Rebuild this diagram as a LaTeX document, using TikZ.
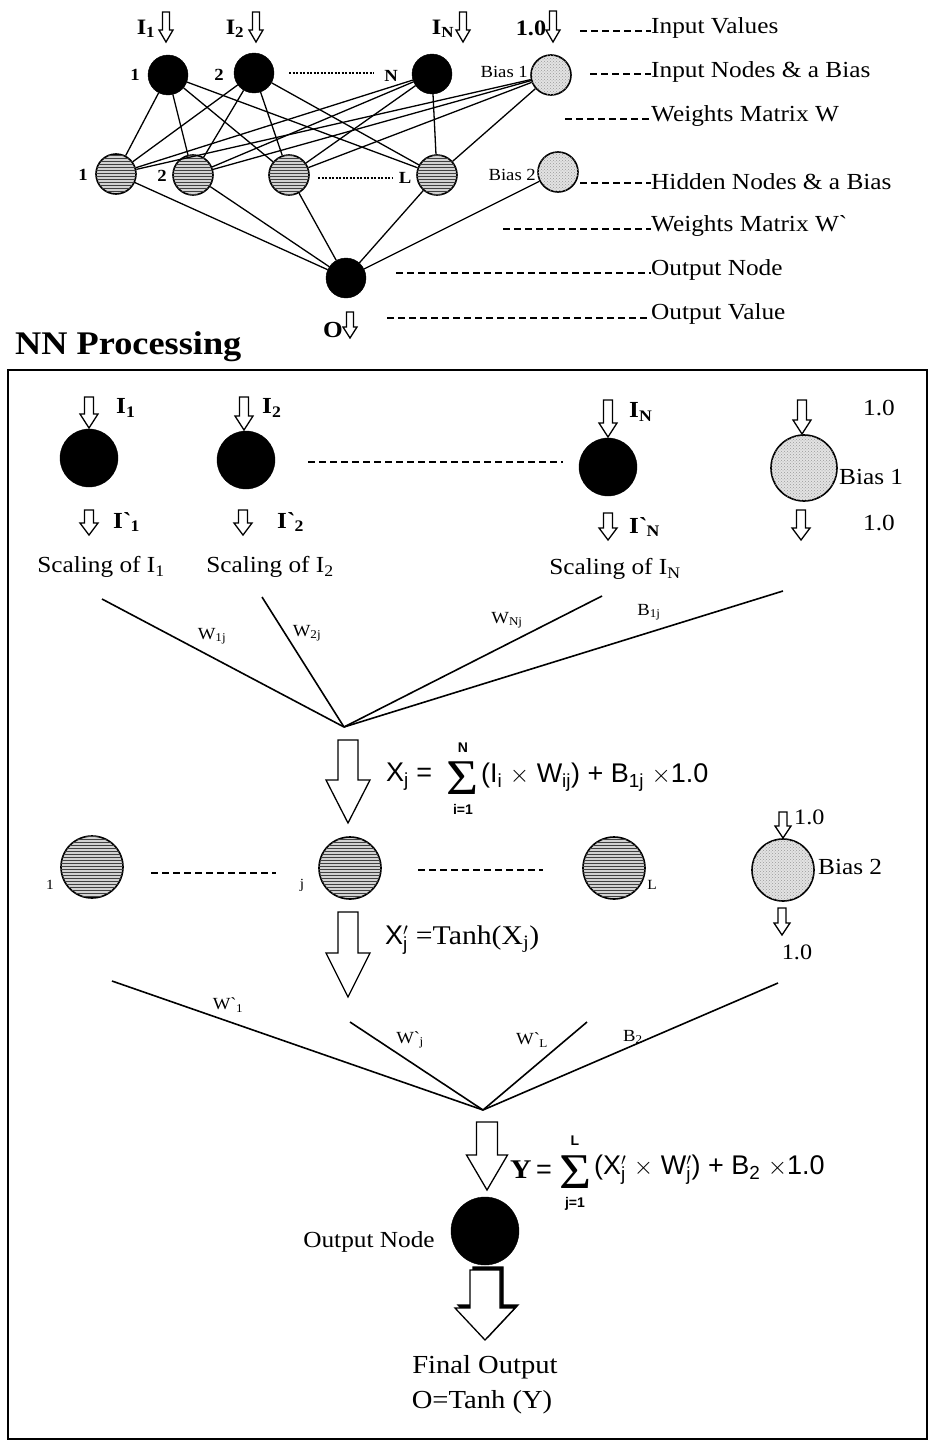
\documentclass[tikz,border=0pt]{standalone}
\usepackage{fontspec}
\setmainfont{Liberation Serif}[FakeStretch=1.1]
\setsansfont{Liberation Sans}
\usetikzlibrary{patterns}
\newcommand\fsz[1]{\fontsize{#1}{#1}\selectfont}
% hollow block arrow: [style] x, ytop, ybottom, shaft half width, head half width, head length
\newcommand\hollowarrow[7][]{%
  \draw[harrow,#1] (#2-#5,#3) -- (#2+#5,#3) -- (#2+#5,#4-#7) -- (#2+#6,#4-#7) -- (#2,#4) -- (#2-#6,#4-#7) -- (#2-#5,#4-#7) -- cycle;}
\tikzset{
  harrow/.style={draw=black, fill=white, line width=1.3pt, line join=miter},
  edge/.style={line width=1.3pt},
  fan/.style={line width=1.6pt},
  inp/.style={circle, draw=black, fill=black, inner sep=0pt},
  hid/.style={circle, draw=black, line width=1.6pt, fill=gray!35, inner sep=0pt,
     postaction={pattern=horizontal lines, pattern color=black!75}},
  bia/.style={circle, draw=black, line width=1.6pt, fill=gray!22, inner sep=0pt,
     postaction={pattern=crosshatch dots, pattern color=gray!80}},
  leg/.style={anchor=west, inner sep=0pt, font=\fsz{23}},
  legdash/.style={line width=1.2pt, dash pattern=on 7pt off 4pt},
  small/.style={inner sep=0pt, font=\fsz{17}\bfseries},
  txt/.style={inner sep=0pt, font=\fsz{23}},
  btxt/.style={inner sep=0pt, font=\fsz{23}\bfseries},
  wl/.style={inner sep=0pt, font=\fsz{17}},
  form/.style={inner sep=0pt, anchor=west, font=\fsz{27}\sffamily},
  sigma/.style={inner sep=0pt, font=\fsz{50}},
  slim/.style={inner sep=0pt, font=\fsz{14}\sffamily\bfseries}
}
\begin{document}
\begin{tikzpicture}[x=1pt,y=-1pt]
\useasboundingbox (0,0) rectangle (930,1443);

% ================= top network =================
\node[inp, minimum size=40pt] (i1) at (168,75) {};
\node[inp, minimum size=40pt] (i2) at (254,73) {};
\node[inp, minimum size=40pt] (iN) at (432,74) {};
\node[bia, minimum size=40pt] (b1) at (551,75) {};
\node[hid, minimum size=40pt] (h1) at (116,174) {};
\node[hid, minimum size=40pt] (h2) at (193,175) {};
\node[hid, minimum size=40pt] (h3) at (289,175) {};
\node[hid, minimum size=40pt] (hL) at (437,175) {};
\node[bia, minimum size=40pt] (b2) at (558,172) {};
\node[inp, minimum size=40pt] (o) at (346,278) {};

\foreach \a in {i1,i2,iN,b1}
  \foreach \b in {h1,h2,h3,hL}
    \draw[edge] (\a) -- (\b);
\foreach \a in {h1,h2,h3,hL,b2}
  \draw[edge] (\a) -- (o);

\node[small] (li1) at (135,75) {1};
\node[small] (li2) at (219,75) {2};
\node[small] (liN) at (391,76) {N};
\node[small] (lh1) at (83,175) {1};
\node[small] (lh2) at (162,176) {2};
\node[small] (lhL) at (405,178) {L};
\node[inner sep=0pt, font=\fsz{17}, anchor=east] (lb1) at (528,72) {Bias 1};
\node[inner sep=0pt, font=\fsz{17}, anchor=east] (lb2) at (536,175) {Bias 2};
\coordinate (d1a) at (289,73); \coordinate (d1b) at (374,73);
\draw[line width=1.2pt, dash pattern=on 2pt off 1.5pt] (d1a) -- (d1b);
\coordinate (d2a) at (318,178); \coordinate (d2b) at (392,178);
\draw[line width=1.2pt, dash pattern=on 2pt off 1.5pt] (d2a) -- (d2b);

% input value arrows
\node[inner sep=0pt, font=\fsz{22}\bfseries] (tI1) at (146,29) {I\textsubscript{1}};
\node[inner sep=0pt, font=\fsz{22}\bfseries] (tI2) at (235,29) {I\textsubscript{2}};
\node[inner sep=0pt, font=\fsz{22}\bfseries] (tIN) at (443,29) {I\textsubscript{N}};
\node[inner sep=0pt, font=\fsz{22}\bfseries] (t10) at (531,28) {1.0};
\hollowarrow{166}{12}{42}{3.5}{7}{12}
\hollowarrow{256}{12}{42}{3.5}{7}{12}
\hollowarrow{463}{12}{42}{3.5}{7}{12}
\hollowarrow{553}{11}{42}{3.5}{7}{12}
\node[inner sep=0pt, font=\fsz{23}\bfseries] (tO) at (333,330) {O};
\hollowarrow{350}{312}{338}{3.5}{7}{11}

% legend
\node[leg] (g1) at (651,28) {Input Values};
\node[leg] (g2) at (651,72) {Input Nodes \& a Bias};
\node[leg] (g3) at (651,116) {Weights Matrix W};
\node[leg] (g4) at (651,182) {Hidden Nodes \& a Bias};
\node[leg] (g5) at (651,226) {Weights Matrix W\textasciigrave};
\node[leg] (g6) at (651,270) {Output Node};
\node[leg] (g7) at (651,314) {Output Value};
\coordinate (e1) at (580,31);  \draw[legdash] (e1) -- (e1 -| g1.west);
\coordinate (e2) at (590,74);  \draw[legdash] (e2) -- (e2 -| g2.west);
\coordinate (e3) at (565,119); \draw[legdash] (e3) -- (e3 -| g3.west);
\coordinate (e4) at (580,183); \draw[legdash] (e4) -- (e4 -| g4.west);
\coordinate (e5) at (503,229); \draw[legdash] (e5) -- (e5 -| g5.west);
\coordinate (e6) at (396,273); \draw[legdash] (e6) -- (e6 -| g6.west);
\coordinate (e7) at (387,318); \draw[legdash] (e7) -- (e7 -| g7.west);

% ================= NN processing =================
\node[inner sep=0pt, anchor=west, font=\fsz{33}\bfseries] (title) at (15,347) {NN Processing};
\draw[line width=2pt] (8,370) rectangle (927,1439);

% input layer
\node[inp, minimum size=58pt] (n1) at (89,458) {};
\node[inp, minimum size=58pt] (n2) at (246,460) {};
\node[inp, minimum size=58pt] (nN) at (608,467) {};
\node[bia, minimum size=66pt] (nb1) at (804,468) {};
\coordinate (dd1) at (308,462); \coordinate (dd2) at (563,462);
\draw[line width=1.6pt, dash pattern=on 7pt off 4pt] (dd1) -- (dd2);

\hollowarrow{89}{397}{428}{4.5}{9}{14}
\hollowarrow{244}{397}{430}{4.5}{9}{14}
\hollowarrow{608}{400}{437}{4.5}{9}{14}
\hollowarrow{802}{400}{434}{4.5}{9}{14}
\hollowarrow{89}{510}{535}{4.5}{9}{12}
\hollowarrow{243}{510}{535}{4.5}{9}{12}
\hollowarrow{608}{513}{540}{4.5}{9}{12}
\hollowarrow{801}{510}{540}{4.5}{9}{12}

\node[btxt, anchor=west] (I1) at (116,408) {I\textsubscript{1}};
\node[btxt, anchor=west] (I2) at (262,408) {I\textsubscript{2}};
\node[btxt, anchor=west] (IN) at (629,412) {I\textsubscript{N}};
\node[btxt, anchor=west] (Ip1) at (113,522) {I\textasciigrave\textsubscript{1}};
\node[btxt, anchor=west] (Ip2) at (277,522) {I\textasciigrave\textsubscript{2}};
\node[btxt, anchor=west] (IpN) at (629,527) {I\textasciigrave\textsubscript{N}};
\node[txt, anchor=west] (v1) at (863,408) {1.0};
\node[txt, anchor=west] (v2) at (863,523) {1.0};
\node[txt, anchor=west] (bb1) at (839,477) {Bias 1};
\node[txt] (s1) at (101,567) {Scaling of I\textsubscript{1}};
\node[txt] (s2) at (270,567) {Scaling of I\textsubscript{2}};
\node[txt] (sN) at (615,569) {Scaling of I\textsubscript{N}};

% first fan
\coordinate (c1) at (344,727);
\coordinate (fa) at (102,599);
\coordinate (fb) at (262,597);
\coordinate (fc) at (602,596);
\coordinate (fd) at (783,591);
\draw[fan] (fa) -- (c1);
\draw[fan] (fb) -- (c1);
\draw[fan] (fc) -- (c1);
\draw[fan] (fd) -- (c1);
\node[wl] (w1) at (212,636) {W\textsubscript{1j}};
\node[wl] (w2) at (307,633) {W\textsubscript{2j}};
\node[wl] (wN) at (507,620) {W\textsubscript{Nj}};
\node[wl] (wB) at (649,612) {B\textsubscript{1j}};

\hollowarrow{348}{740}{823}{10}{22}{43}
\node[form] (F1a) at (386,777) {X\textsubscript{j} =};
\node[sigma] (S1) at (463,778) {Σ};
\node[slim] (S1t) at (463,748) {N};
\node[slim] (S1b) at (463,809) {i=1};
\node[form] (F1b) at (481,777) {(I\textsubscript{i} $\times$ W\textsubscript{ij}) + B\textsubscript{1j} $\times$1.0};

% hidden layer
\node[hid, minimum size=62pt] (m1) at (92,867) {};
\node[hid, minimum size=62pt] (mj) at (350,868) {};
\node[hid, minimum size=62pt] (mL) at (614,868) {};
\node[bia, minimum size=62pt] (nb2) at (783,870) {};
\node[inner sep=0pt, font=\fsz{14}] (lm1) at (50,885) {1};
\node[inner sep=0pt, font=\fsz{14}] (lmj) at (302,885) {j};
\node[inner sep=0pt, font=\fsz{14}] (lmL) at (652,885) {L};
\coordinate (hd1) at (151,873); \coordinate (hd2) at (276,873);
\draw[line width=1.6pt, dash pattern=on 7pt off 4pt] (hd1) -- (hd2);
\coordinate (hd3) at (418,870); \coordinate (hd4) at (543,870);
\draw[line width=1.6pt, dash pattern=on 7pt off 4pt] (hd3) -- (hd4);
\node[txt, anchor=west] (bb2) at (818,867) {Bias 2};
\hollowarrow{783}{812}{838}{4}{8}{12}
\node[inner sep=0pt, anchor=west, font=\fsz{22}] (v3) at (794,817) {1.0};
\hollowarrow{782}{908}{935}{4}{8}{12}
\node[inner sep=0pt, font=\fsz{22}] (v4) at (797,952) {1.0};

\hollowarrow{348}{912}{997}{10}{22}{44}
\node[form] (F2) at (385,940) {X$^{\prime}_{\mathsf{j}}$ \rmfamily=Tanh(X\textsubscript{j})};

% second fan
\coordinate (c2) at (483,1110);
\coordinate (ga) at (112,981);
\coordinate (gb) at (350,1022);
\coordinate (gc) at (587,1022);
\coordinate (gd) at (778,983);
\draw[fan] (ga) -- (c2);
\draw[fan] (gb) -- (c2);
\draw[fan] (gc) -- (c2);
\draw[fan] (gd) -- (c2);
\node[wl] (x1) at (228,1005) {W\textasciigrave\textsubscript{1}};
\node[wl] (xj) at (410,1040) {W\textasciigrave\textsubscript{j}};
\node[wl] (xL) at (532,1040) {W\textasciigrave\textsubscript{L}};
\node[wl] (xB) at (633,1037) {B\textsubscript{2}};

\hollowarrow{487}{1122}{1190}{10.5}{20.5}{35}
\node[form] (F3a) at (510,1170) {{\rmfamily\bfseries Y}\,=};
\node[sigma] (S3) at (575,1172) {Σ};
\node[slim] (S3t) at (575,1141) {L};
\node[slim] (S3b) at (575,1204) {j=1};
\node[form] (F3b) at (594,1170) {(X$^{\prime}_{\mathsf{j}}$ $\times$ W$^{\prime}_{\mathsf{j}}$) + B\textsubscript{2} $\times$1.0};

% output
\node[inp, minimum size=68pt] (out) at (485,1231) {};
\node[txt] (lout) at (369,1242) {Output Node};
\hollowarrow[fill=black, xshift=3pt, yshift=3pt]{485}{1270}{1340}{15}{30}{32}
\hollowarrow{485}{1270}{1340}{15}{30}{32}
\node[inner sep=0pt, font=\fsz{26}] (fo1) at (485,1367) {Final Output};
\node[inner sep=0pt, font=\fsz{26}] (fo2) at (482,1402) {O=Tanh (Y)};
\end{tikzpicture}
\end{document}
